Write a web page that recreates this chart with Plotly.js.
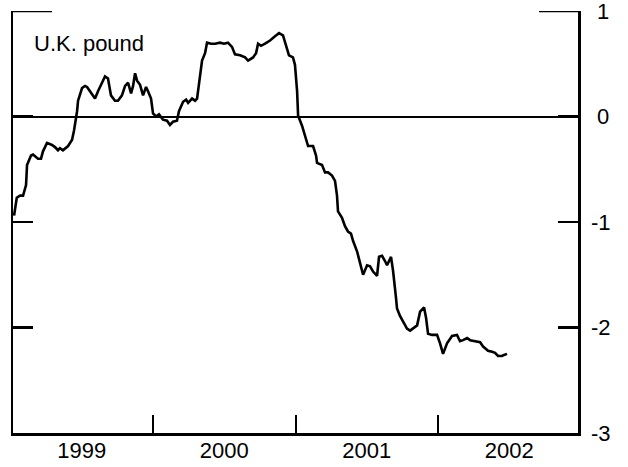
<!DOCTYPE html>
<html>
<head>
<meta charset="utf-8">
<script src="https://cdn.plot.ly/plotly-3.0.1.min.js"></script>
<style>html,body{margin:0;padding:0;background:#fff;}#chart{width:628px;height:467px;}</style>
</head>
<body>
<div id="chart"></div>
<script>
// Time in fractional years
const years = [
1999.025,1999.032,1999.044,1999.067,1999.088,1999.109,1999.116,1999.144,1999.158,1999.193,
1999.214,1999.228,1999.256,1999.291,1999.312,1999.333,1999.347,1999.368,1999.404,1999.432,
1999.446,1999.467,1999.474,1999.502,1999.523,1999.537,1999.565,1999.593,1999.614,1999.642,
1999.663,1999.684,1999.705,1999.733,1999.754,1999.782,1999.804,1999.825,1999.846,1999.860,
1999.874,1999.888,1999.909,1999.930,1999.951,1999.965,1999.986,2000.000,2000.021,2000.042,
2000.070,2000.098,2000.119,2000.140,2000.168,2000.182,2000.211,2000.232,2000.246,2000.274,
2000.295,2000.309,2000.323,2000.344,2000.365,2000.379,2000.407,2000.435,2000.470,2000.498,
2000.526,2000.554,2000.575,2000.611,2000.646,2000.667,2000.702,2000.723,2000.737,2000.758,
2000.786,2000.821,2000.856,2000.884,2000.912,2000.933,2000.954,2000.982,2000.996,2001.011,
2001.018,2001.046,2001.067,2001.088,2001.123,2001.144,2001.151,2001.186,2001.207,2001.228,
2001.256,2001.277,2001.291,2001.298,2001.326,2001.347,2001.368,2001.389,2001.404,2001.432,
2001.453,2001.474,2001.502,2001.523,2001.544,2001.572,2001.586,2001.607,2001.628,2001.642,
2001.670,2001.684,2001.705,2001.712,2001.733,2001.754,2001.782,2001.804,2001.825,2001.853,
2001.874,2001.902,2001.916,2001.930,2001.958,2001.993,2002.014,2002.035,2002.063,2002.098,
2002.133,2002.154,2002.175,2002.204,2002.225,2002.260,2002.295,2002.316,2002.351,2002.379,
2002.400,2002.421,2002.449,2002.463,2002.484
];
// U.K. pound (values on the right axis)
const pound = [
-0.94,-0.87,-0.77,-0.75,-0.75,-0.65,-0.46,-0.37,-0.36,-0.40,
-0.40,-0.33,-0.25,-0.27,-0.29,-0.32,-0.30,-0.32,-0.28,-0.22,
-0.13,0.05,0.15,0.27,0.29,0.28,0.22,0.17,0.24,0.33,
0.38,0.36,0.20,0.15,0.15,0.20,0.29,0.32,0.22,0.29,
0.41,0.34,0.30,0.20,0.28,0.24,0.17,0.03,0.00,0.02,
-0.03,-0.04,-0.08,-0.05,-0.04,0.05,0.14,0.16,0.13,0.17,
0.15,0.17,0.33,0.53,0.60,0.70,0.69,0.69,0.70,0.69,
0.70,0.66,0.59,0.58,0.56,0.53,0.56,0.60,0.69,0.67,
0.69,0.72,0.76,0.79,0.77,0.68,0.58,0.56,0.49,0.24,
0.01,-0.09,-0.19,-0.28,-0.28,-0.37,-0.44,-0.46,-0.53,-0.53,
-0.56,-0.61,-0.75,-0.90,-0.96,-1.04,-1.09,-1.11,-1.18,-1.28,
-1.39,-1.50,-1.41,-1.42,-1.47,-1.51,-1.33,-1.32,-1.37,-1.41,
-1.33,-1.46,-1.72,-1.82,-1.89,-1.94,-2.01,-2.03,-2.01,-1.98,
-1.85,-1.81,-1.91,-2.06,-2.07,-2.07,-2.15,-2.25,-2.15,-2.08,
-2.07,-2.13,-2.12,-2.10,-2.12,-2.13,-2.14,-2.18,-2.22,-2.23,
-2.24,-2.27,-2.27,-2.26,-2.25
];
const yearLabelPos = [1999.5, 2000.5, 2001.5, 2002.5];
const yearLabels = ["1999", "2000", "2001", "2002"];
const yTickVals = [1, 0, -1, -2, -3];
const yTickText = ["\u20081", "\u20080", "-1", "-2", "-3"];
const seriesLabel = "U.K. pound";

const font = {family: "Arial, 'Liberation Sans', Helvetica, sans-serif", size: 22, color: "#000"};

const trace = {
  x: years, y: pound, type: "scatter", mode: "lines",
  line: {color: "#000", width: 2.6}, hoverinfo: "skip"
};

const layout = {
  width: 628, height: 467,
  margin: {l: 13, r: 50, t: 11, b: 34},
  paper_bgcolor: "#fff", plot_bgcolor: "#fff",
  showlegend: false,
  font: font,
  xaxis: {
    range: [1999.0175, 2002.982],
    showgrid: false, zeroline: false,
    showline: true, linecolor: "#000", linewidth: 2.5,
    tickmode: "array", tickvals: yearLabelPos, ticktext: yearLabels,
    ticks: "", tickfont: font, ticklabelstandoff: -4,
    minor: {tickmode: "linear", tick0: 2000, dtick: 1, ticks: "inside", ticklen: 18, tickwidth: 2, tickcolor: "#000", showgrid: false}
  },
  yaxis: {
    range: [-3, 1], side: "right",
    showgrid: false,
    zeroline: true, zerolinecolor: "#000", zerolinewidth: 2,
    showline: true, linecolor: "#000", linewidth: 2.5, mirror: "ticks",
    tickmode: "array", tickvals: yTickVals, ticktext: yTickText,
    ticks: "inside", ticklen: 20, tickwidth: 2.5, tickcolor: "#000",
    tickfont: font, ticklabelstandoff: 6, ticklabeloverflow: "allow"
  },
  shapes: [
    {type: "line", xref: "paper", yref: "y", x0: 0, x1: 0.069, y0: 1, y1: 1, line: {color: "#000", width: 2.5}},
    {type: "line", xref: "paper", yref: "y", x0: 0.931, x1: 1, y0: 1, y1: 1, line: {color: "#000", width: 2.5}}
  ],
  annotations: [
    {text: seriesLabel, xref: "paper", yref: "paper", x: 0.033, y: 0.957, xanchor: "left", yanchor: "top",
     showarrow: false, font: font}
  ]
};

Plotly.newPlot("chart", [trace], layout, {staticPlot: true, displayModeBar: false});
</script>
</body>
</html>
